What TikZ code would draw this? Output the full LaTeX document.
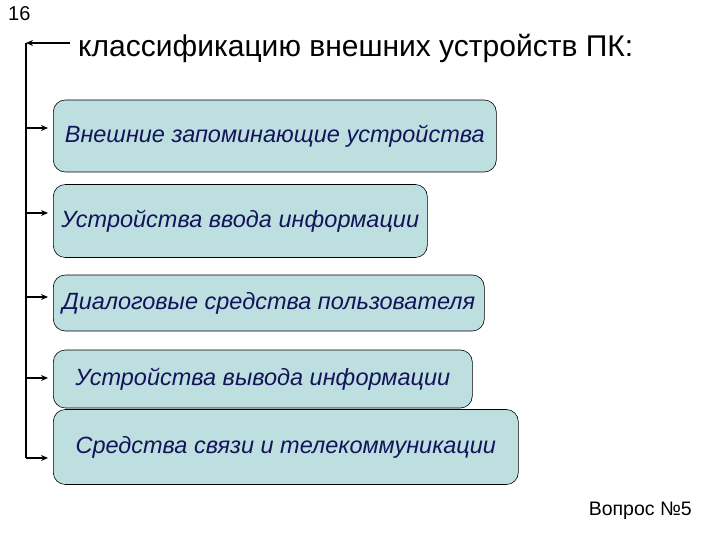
\documentclass[tikz,border=0pt]{standalone}
\usepackage{fontspec}
\setmainfont{Liberation Sans}
\usetikzlibrary{arrows.meta, positioning}
\definecolor{boxfill}{HTML}{BEDFE0}
\definecolor{boxtext}{HTML}{14145A}
\tikzset{
    >={Stealth[length=7pt, width=6pt]}, % arrow heads
    device/.style={draw=black, semithick, fill=boxfill, rounded corners=12pt, anchor=west,
        font=\fontsize{23.5}{26}\selectfont\itshape, text=boxtext, inner sep=2pt}, % the boxes
    link/.style={->, line width=1.4pt, shorten >=5pt}, % arrows from the left line
}

\begin{document}
\begin{tikzpicture}[x=1pt, y=-1pt]
    \useasboundingbox (0,0) rectangle (720,540);

    \node[anchor=north west, font=\fontsize{20}{22}\selectfont, inner sep=0pt] (num) at (8,6) {16};
    \node[anchor=west, font=\fontsize{30}{34}\selectfont, inner sep=2pt] (title) at (76,48) {классификацию внешних устройств ПК:};

    \node[device, minimum width=443pt, minimum height=72pt] (b1) at (53,136) {Внешние запоминающие устройства};
    \node[device, minimum width=374pt, minimum height=73pt] (b2) at (53,221) {Устройства ввода информации};
    \node[device, minimum width=431pt, minimum height=56pt] (b3) at (53,303) {Диалоговые средства пользователя};
    \node[device, minimum width=419pt, minimum height=58pt] (b4) at (53,379) {Устройства вывода информации};
    \node[device, minimum width=465pt, minimum height=75pt] (b5) at (53,447) {Средства связи и телекоммуникации};

    \node[anchor=south east, font=\fontsize{19.5}{22}\selectfont, inner sep=0pt] (ques) at (692,520) {Вопрос №5};

    \coordinate (top) at (26,43);
    \coordinate (s1) at (26,128);
    \coordinate (s2) at (26,213);
    \coordinate (s3) at (26,297);
    \coordinate (s4) at (26,378);
    \coordinate (s5) at (26,458);

    \draw[line width=1.4pt, ->] ([xshift=-6pt]title.west |- top) -- (top);
    \draw[line width=1.4pt] (top) -- (s5);
    \draw[link] (s1) -- (b1.west |- s1);
    \draw[link] (s2) -- (b2.west |- s2);
    \draw[link] (s3) -- (b3.west |- s3);
    \draw[link] (s4) -- (b4.west |- s4);
    \draw[link] (s5) -- (b5.west |- s5);

\end{tikzpicture}
\end{document}
